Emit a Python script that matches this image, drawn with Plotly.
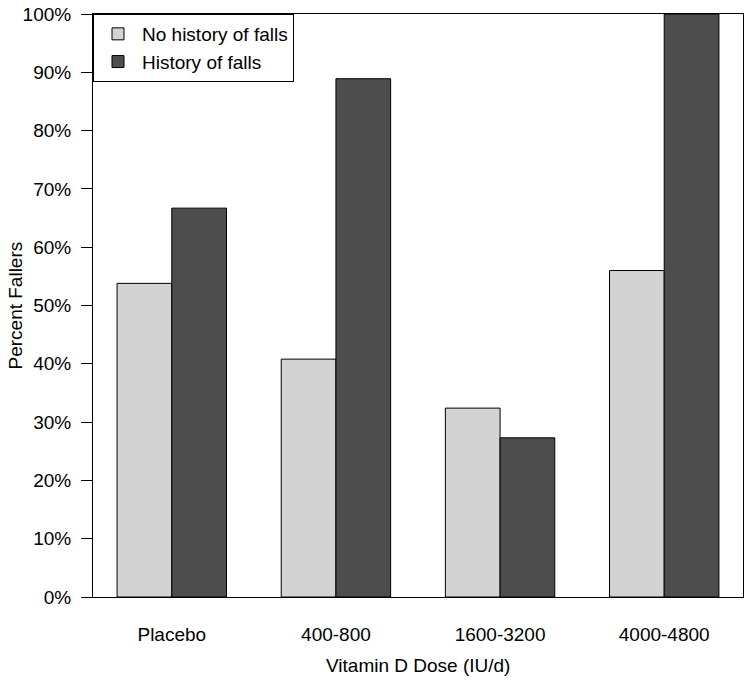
import plotly.graph_objects as go

categories = ["Placebo", "400-800", "1600-3200", "4000-4800"]
no_history = [53.8, 40.8, 32.4, 56.0]
history = [66.7, 88.9, 27.3, 100.0]
y_ticks = [0, 10, 20, 30, 40, 50, 60, 70, 80, 90, 100]
x_title = "Vitamin D Dose (IU/d)"
y_title = "Percent Fallers"

FONT = "Liberation Sans, Arial, sans-serif"
W, H = 752, 694
L, R, T, B = 93, 9, 14, 97
PW, PH = W - L - R, H - T - B

fig = go.Figure()
fig.add_trace(go.Bar(x=categories, y=no_history, name="No history of falls",
                     marker=dict(color="#D3D3D3", line=dict(color="black", width=1))))
fig.add_trace(go.Bar(x=categories, y=history, name="History of falls",
                     marker=dict(color="#4D4D4D", line=dict(color="black", width=1))))

fig.update_layout(
    width=W, height=H,
    margin=dict(l=L, r=R, t=T, b=B, autoexpand=False),
    paper_bgcolor="white", plot_bgcolor="white",
    barmode="group", bargap=1/3, bargroupgap=0,
    font=dict(family=FONT, size=19, color="black"),
    showlegend=True,
    legend=dict(x=0, y=1, xanchor="left", yanchor="top", xref="paper", yref="paper",
                bordercolor="black", borderwidth=1, bgcolor="white",
                itemwidth=38, font=dict(size=19)),
    xaxis=dict(range=[-0.48, 3.48], showline=True, linecolor="black", linewidth=1,
               mirror=True, ticks="", showgrid=False, zeroline=False,
               automargin=False, ticklabelstandoff=20),
    yaxis=dict(range=[0, 100], tickvals=y_ticks, ticktext=[f"{v}%" for v in y_ticks],
               showline=True, linecolor="black", linewidth=1, mirror=True,
               ticks="outside", ticklen=11, tickcolor="black", tickwidth=1,
               showgrid=False, zeroline=False, automargin=False, ticklabelstandoff=6),
    annotations=[
        dict(text=x_title, xref="paper", yref="paper", x=0.5,
             y=-(665 - 597) / PH, xanchor="center", yanchor="middle",
             showarrow=False, font=dict(size=19)),
        dict(text=y_title, xref="paper", yref="paper", x=(15 - L) / PW, y=0.5,
             xanchor="center", yanchor="middle", textangle=-90, showarrow=False,
             font=dict(size=19)),
    ],
)

fig.write_html("out.html", config={"displayModeBar": False},
               post_script="document.body.style.margin='0';document.body.style.overflow='hidden';")
